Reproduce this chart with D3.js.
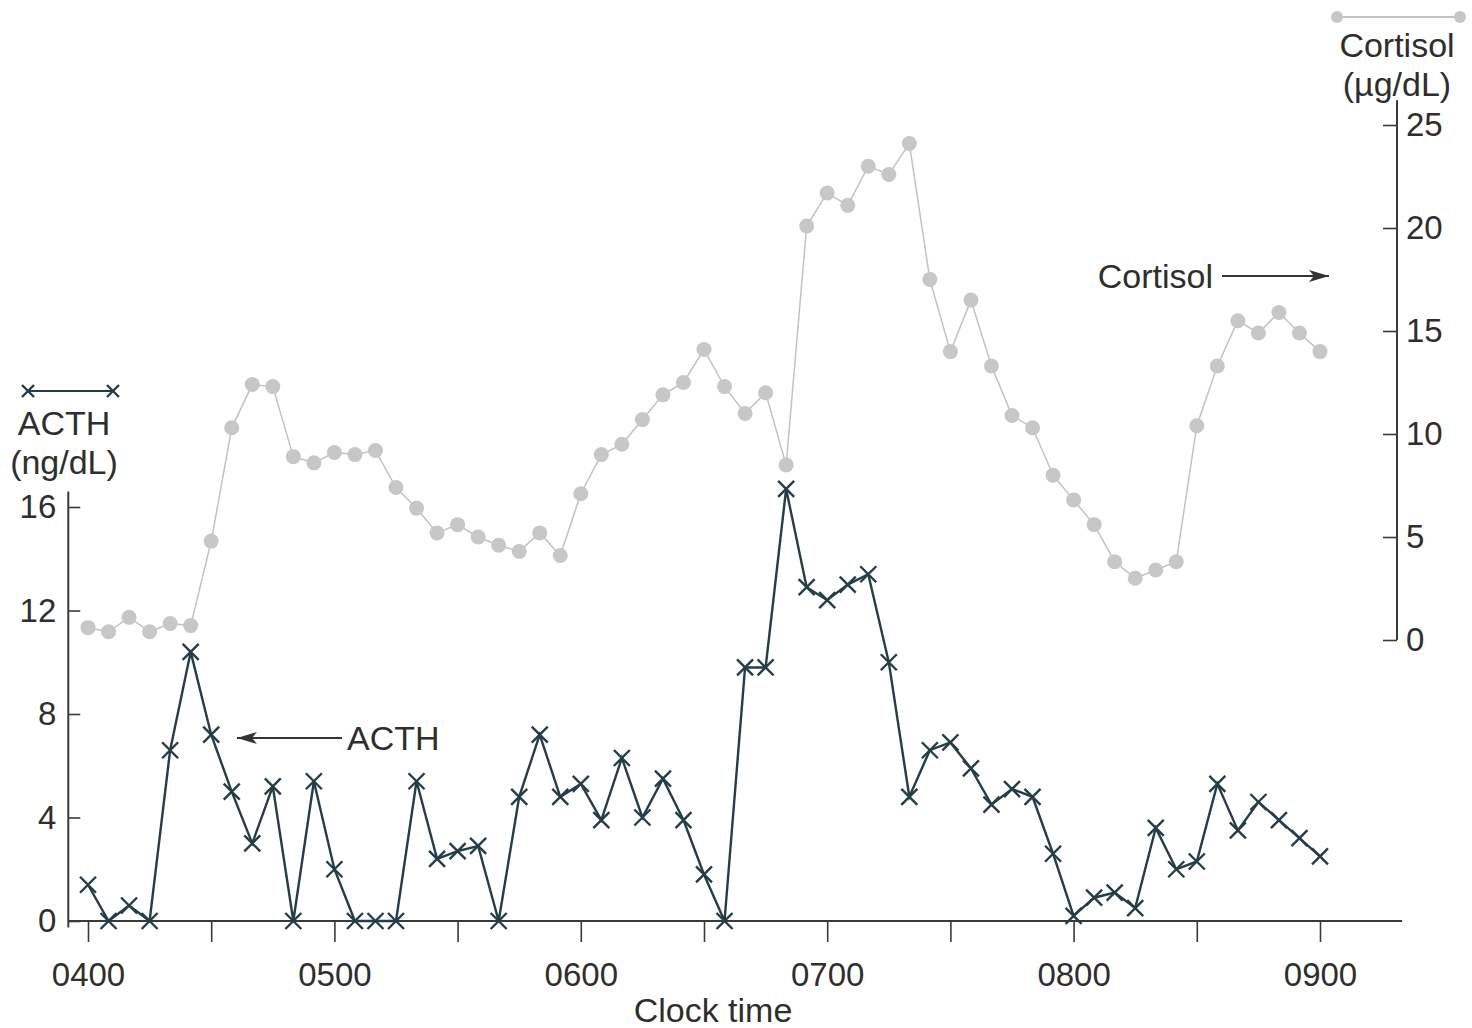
<!DOCTYPE html>
<html>
<head>
<meta charset="utf-8">
<script src="https://cdn.jsdelivr.net/npm/d3@7"></script>
<style>
  body { margin: 0; background: #fff; }
  text { font-family: "Liberation Sans", Arial, sans-serif; fill: #2e2e2e; }
</style>
</head>
<body>
<div id="chart"></div>
<script>
// sampling times, minutes after 0400
var sampleMinutes = [0, 5, 10, 15, 20, 25, 30, 35, 40, 45, 50, 55, 60, 65, 70, 75, 80, 85, 90, 95,
    100, 105, 110, 115, 120, 125, 130, 135, 140, 145, 150, 155, 160, 165, 170, 175, 180, 185, 190, 195,
    200, 205, 210, 215, 220, 225, 230, 235, 240, 245, 250, 255, 260, 265, 270, 275, 280, 285, 290, 295, 300];

// ACTH (ng/dL)
var acth = [1.4, 0, 0.6, 0, 6.6, 10.4, 7.2, 5.0, 3.0, 5.2, 0, 5.4, 2.0, 0, 0, 0, 5.4, 2.4, 2.7, 2.9,
    0, 4.8, 7.2, 4.8, 5.3, 3.9, 6.3, 4.0, 5.5, 3.9, 1.8, 0, 9.8, 9.8, 16.7, 12.9, 12.4, 13.0, 13.4, 10.0,
    4.8, 6.6, 6.9, 5.9, 4.5, 5.1, 4.8, 2.6, 0.2, 0.9, 1.1, 0.5, 3.6, 2.0, 2.3, 5.3, 3.5, 4.6, 3.9, 3.2, 2.5];

// Cortisol (ug/dL)
var cortisol = [0.6, 0.4, 1.1, 0.4, 0.8, 0.7, 4.8, 10.3, 12.4, 12.3, 8.9, 8.6, 9.1, 9.0, 9.2, 7.4, 6.4, 5.2, 5.6, 5.0,
    4.6, 4.3, 5.2, 4.1, 7.1, 9.0, 9.5, 10.7, 11.9, 12.5, 14.1, 12.3, 11.0, 12.0, 8.5, 20.1, 21.7, 21.1, 23.0, 22.6,
    24.1, 17.5, 14.0, 16.5, 13.3, 10.9, 10.3, 8.0, 6.8, 5.6, 3.8, 3.0, 3.4, 3.8, 10.4, 13.3, 15.5, 14.9, 15.9, 14.9, 14.0];

var hourLabels = ["0400", "0500", "0600", "0700", "0800", "0900"];
var xTickMinutes = [0, 30, 60, 90, 120, 150, 180, 210, 240, 270, 300];
var acthTicks = [0, 4, 8, 12, 16];
var cortisolTicks = [0, 5, 10, 15, 20, 25];

var width = 1472, height = 1028;
var ink = "#3a3a3a", acthColor = "#253d47", cortColor = "#c2c2c2", cortDot = "#c7c7c7";

var svg = d3.select("#chart").append("svg")
    .attr("width", width)
    .attr("height", height);

var x = d3.scaleLinear().domain([0, 300]).range([88, 1320]);
var yA = d3.scaleLinear().domain([0, 16]).range([921, 507]);
var yC = d3.scaleLinear().domain([0, 25]).range([640, 125]);

var axisLeftX = x(-4.8), axisRightX = 1397;

// x axis
var xAxis = d3.axisBottom(x)
    .tickValues(xTickMinutes)
    .tickSizeInner(21)
    .tickSizeOuter(0)
    .tickPadding(21)
    .tickFormat(function (d) { return d % 60 === 0 ? hourLabels[d / 60] : ""; });

var gx = svg.append("g")
    .attr("transform", "translate(0," + yA(0) + ")")
    .call(xAxis);
gx.select(".domain").remove();
gx.selectAll(".tick line").attr("stroke", ink).attr("stroke-width", 1.6);
gx.selectAll(".tick text").style("font-size", "33px").attr("fill", "#2e2e2e");

svg.append("line")
    .attr("x1", axisLeftX).attr("x2", x(320))
    .attr("y1", yA(0)).attr("y2", yA(0))
    .attr("stroke", ink).attr("stroke-width", 2);

svg.append("text")
    .attr("x", 713)
    .attr("y", 1022)
    .attr("text-anchor", "middle")
    .style("font-size", "34px")
    .text("Clock time");

// left (ACTH) axis
var gl = svg.append("g")
    .attr("transform", "translate(" + axisLeftX + ",0)")
    .call(d3.axisLeft(yA).tickValues(acthTicks).tickSizeInner(-12).tickSizeOuter(0).tickPadding(12));
gl.select(".domain").remove();
gl.selectAll(".tick line").attr("stroke", ink).attr("stroke-width", 1.6);
gl.selectAll(".tick text").style("font-size", "33px").attr("fill", "#2e2e2e");
svg.append("line")
    .attr("x1", axisLeftX).attr("x2", axisLeftX)
    .attr("y1", yA(-0.25)).attr("y2", yA(16.6))
    .attr("stroke", ink).attr("stroke-width", 2);

// right (cortisol) axis
var gr = svg.append("g")
    .attr("transform", "translate(" + axisRightX + ",0)")
    .call(d3.axisRight(yC).tickValues(cortisolTicks).tickSizeInner(-14).tickSizeOuter(0).tickPadding(9));
gr.select(".domain").remove();
gr.selectAll(".tick line").attr("stroke", ink).attr("stroke-width", 1.6);
gr.selectAll(".tick text").style("font-size", "33px").attr("fill", "#2e2e2e");
svg.append("line")
    .attr("x1", axisRightX).attr("x2", axisRightX)
    .attr("y1", yC(0)).attr("y2", yC(26.2))
    .attr("stroke", ink).attr("stroke-width", 2);

// cortisol series
var cortData = sampleMinutes.map(function (m, i) { return { m: m, v: cortisol[i] }; });
svg.append("path")
    .datum(cortData)
    .attr("fill", "none")
    .attr("stroke", cortColor)
    .attr("stroke-width", 1.5)
    .attr("d", d3.line().x(function (d) { return x(d.m); }).y(function (d) { return yC(d.v); }));
svg.selectAll(".cort-dot")
    .data(cortData)
    .enter().append("circle")
    .attr("class", "cort-dot")
    .attr("cx", function (d) { return x(d.m); })
    .attr("cy", function (d) { return yC(d.v); })
    .attr("r", 7.5)
    .attr("fill", cortDot);

// ACTH series
var acthData = sampleMinutes.map(function (m, i) { return { m: m, v: acth[i] }; });
svg.append("path")
    .datum(acthData)
    .attr("fill", "none")
    .attr("stroke", acthColor)
    .attr("stroke-width", 2.4)
    .attr("d", d3.line().x(function (d) { return x(d.m); }).y(function (d) { return yA(d.v); }));
var cross = "M-8,-8L8,8M-8,8L8,-8";
svg.selectAll(".acth-x")
    .data(acthData)
    .enter().append("path")
    .attr("class", "acth-x")
    .attr("transform", function (d) { return "translate(" + x(d.m) + "," + yA(d.v) + ")"; })
    .attr("d", cross)
    .attr("stroke", acthColor)
    .attr("stroke-width", 2.4)
    .attr("fill", "none");

// arrowheads
var defs = svg.append("defs");
defs.append("marker")
    .attr("id", "arrow")
    .attr("viewBox", "0 0 20 12")
    .attr("refX", 20).attr("refY", 6)
    .attr("markerWidth", 20).attr("markerHeight", 12)
    .attr("markerUnits", "userSpaceOnUse")
    .attr("orient", "auto")
    .append("path")
    .attr("d", "M0,0L20,6L0,12L5,6Z")
    .attr("fill", "#333");

// ACTH annotation
svg.append("line")
    .attr("x1", 342).attr("y1", 738).attr("x2", 237).attr("y2", 738)
    .attr("stroke", "#333").attr("stroke-width", 1.8)
    .attr("marker-end", "url(#arrow)");
svg.append("text")
    .attr("x", 347).attr("y", 750)
    .style("font-size", "34px")
    .text("ACTH");

// cortisol annotation
svg.append("text")
    .attr("x", 1213).attr("y", 288)
    .attr("text-anchor", "end")
    .style("font-size", "34px")
    .text("Cortisol");
svg.append("line")
    .attr("x1", 1222).attr("y1", 276).attr("x2", 1329).attr("y2", 276)
    .attr("stroke", "#333").attr("stroke-width", 1.8)
    .attr("marker-end", "url(#arrow)");

// ACTH legend (top left)
svg.append("line")
    .attr("x1", 28).attr("x2", 113).attr("y1", 391).attr("y2", 391)
    .attr("stroke", acthColor).attr("stroke-width", 2.2);
svg.selectAll(".leg-x")
    .data([28, 113])
    .enter().append("path")
    .attr("class", "leg-x")
    .attr("transform", function (d) { return "translate(" + d + ",391)"; })
    .attr("d", "M-6,-6L6,6M-6,6L6,-6")
    .attr("stroke", acthColor).attr("stroke-width", 2.4);
svg.append("text").attr("x", 64).attr("y", 435).attr("text-anchor", "middle")
    .style("font-size", "34px").text("ACTH");
svg.append("text").attr("x", 64).attr("y", 474).attr("text-anchor", "middle")
    .style("font-size", "34px").text("(ng/dL)");

// cortisol legend (top right)
svg.append("line")
    .attr("x1", 1337).attr("x2", 1460).attr("y1", 17).attr("y2", 17)
    .attr("stroke", cortColor).attr("stroke-width", 1.8);
svg.selectAll(".leg-dot")
    .data([1337, 1460])
    .enter().append("circle")
    .attr("class", "leg-dot")
    .attr("cx", function (d) { return d; })
    .attr("cy", 17).attr("r", 6)
    .attr("fill", cortDot);
svg.append("text").attr("x", 1397).attr("y", 57).attr("text-anchor", "middle")
    .style("font-size", "34px").text("Cortisol");
svg.append("text").attr("x", 1397).attr("y", 96).attr("text-anchor", "middle")
    .style("font-size", "34px").text("(\u00b5g/dL)");
</script>
</body>
</html>
